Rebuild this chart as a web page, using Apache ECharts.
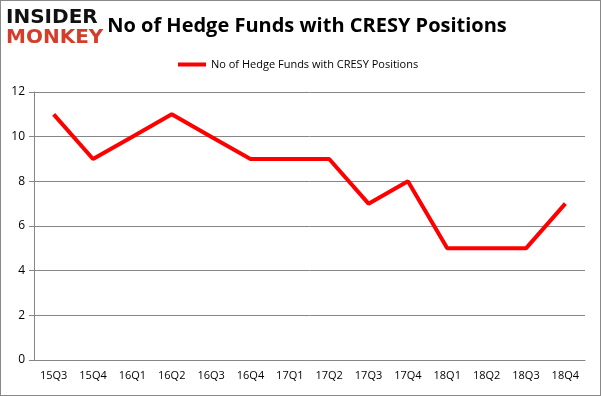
<!DOCTYPE html>
<html>
<head>
<meta charset="utf-8">
<script src="https://cdn.jsdelivr.net/npm/echarts@6/dist/echarts.min.js"></script>
<style>
html, body { margin: 0; padding: 0; background: #fff; }
#chart { width: 601px; height: 396px; box-sizing: border-box; border: 1px solid #888; }
</style>
</head>
<body>
<div id="chart"></div>
<script>
var quarters = ["15Q3", "15Q4", "16Q1", "16Q2", "16Q3", "16Q4", "17Q1", "17Q2", "17Q3", "17Q4", "18Q1", "18Q2", "18Q3", "18Q4"];
var fundCounts = [11, 9, 10, 11, 10, 9, 9, 9, 7, 8, 5, 5, 5, 7];
var seriesName = "No of Hedge Funds with CRESY Positions";

var chart = echarts.init(document.getElementById("chart"));
var font = "Open Sans, Noto Sans, sans-serif";

chart.setOption({
    animation: false,
    title: {
        text: seriesName,
        left: 301,
        textAlign: "center",
        top: 10,
        textStyle: { fontFamily: font, fontSize: 20, fontWeight: "bold", color: "#000" }
    },
    legend: {
        data: [seriesName],
        top: 53,
        left: 172,
        itemWidth: 28,
        itemHeight: 4,
        itemGap: 6,
        icon: "rect",
        textStyle: { fontFamily: font, fontSize: 11, color: "#000" }
    },
    graphic: [
        {
            type: "text", left: 5, top: 7,
            style: { text: "INSIDER", fontFamily: "DejaVu Sans, sans-serif", fontSize: 20, fontWeight: 900, fill: "#111" }
        },
        {
            type: "text", left: 5, top: 27,
            style: { text: "MONKEY", fontFamily: "DejaVu Sans, sans-serif", fontSize: 20, fontWeight: 900, fill: "#d63c2a" }
        }
    ],
    grid: { left: 33, right: 15, top: 91, bottom: 35 },
    xAxis: {
        type: "category",
        data: quarters,
        boundaryGap: true,
        axisLine: { lineStyle: { color: "#868686" } },
        axisTick: { length: 5, lineStyle: { color: "#868686" } },
        axisLabel: { fontFamily: font, fontSize: 11, color: "#000", margin: 10 }
    },
    yAxis: {
        type: "value",
        min: 0,
        max: 12,
        interval: 2,
        axisLine: { show: true, lineStyle: { color: "#868686" } },
        axisTick: { show: true, length: 5, lineStyle: { color: "#868686" } },
        splitLine: { lineStyle: { color: "#868686" } },
        axisLabel: { fontFamily: font, fontSize: 12, color: "#000", margin: 9 }
    },
    series: [{
        name: seriesName,
        type: "line",
        data: fundCounts,
        symbol: "none",
        color: "#ff0000",
        lineStyle: { width: 4, color: "#ff0000" }
    }]
});
</script>
</body>
</html>
